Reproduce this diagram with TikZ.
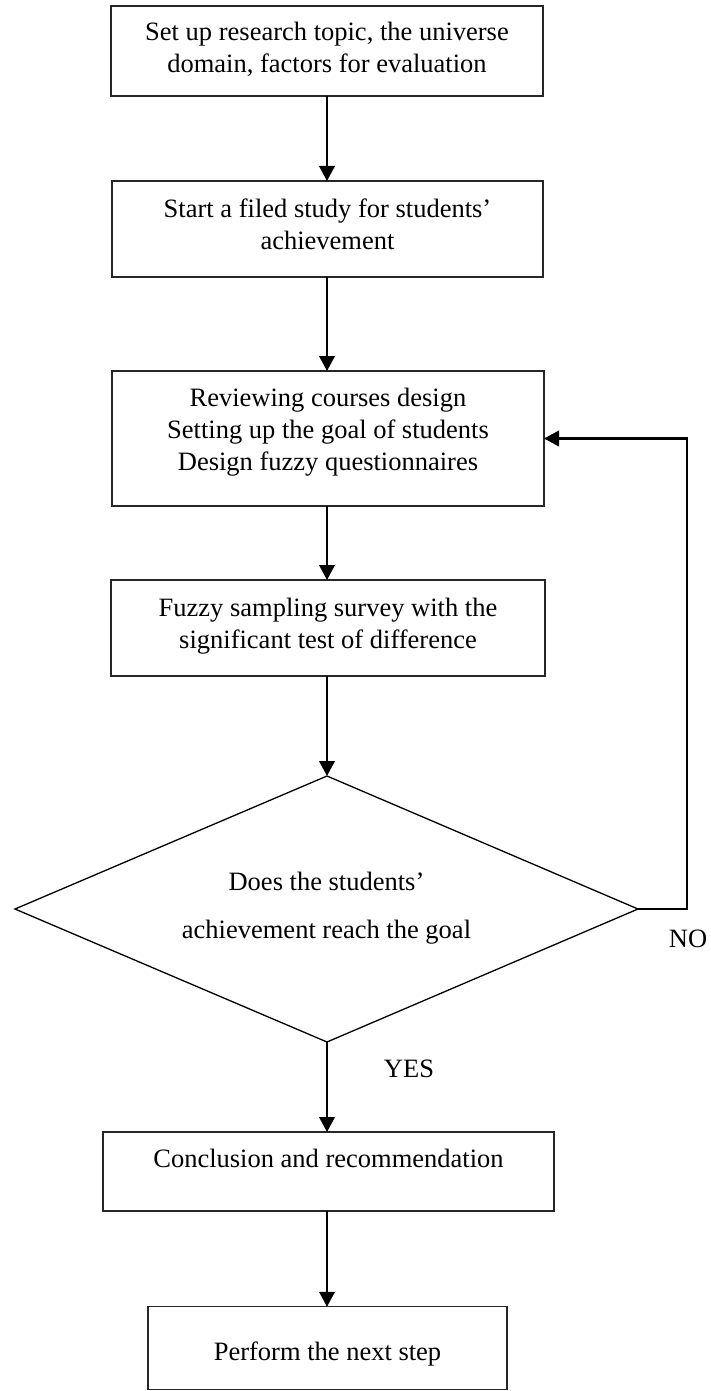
\documentclass[tikz,border=0pt]{standalone}
\usepackage{fontspec}
\setmainfont{Liberation Serif}
\usetikzlibrary{arrows.meta}
\newcommand\myTop[1]{\rule{0pt}{#1pt}}
\newcommand\myBot[1]{\rule[-#1pt]{0pt}{#1pt}}
\begin{document}
\begin{tikzpicture}[x=1pt,y=-1pt,
  box/.style={draw=black!85, line width=1.1pt, rectangle, align=center,
    inner sep=0pt, outer sep=0pt, font=\fontsize{26.5}{32}\selectfont},
  decline/.style={draw=black, line width=1.3pt, line join=miter},
  dectext/.style={align=center, inner sep=0pt, font=\fontsize{26.5}{48}\selectfont},
  lbl/.style={inner sep=0pt, font=\fontsize{26.5}{32}\selectfont},
  arr/.style={line width=2.2pt, -{Triangle[length=15pt,width=15.5pt]}},
  fbline/.style={line width=2.4pt, -{Triangle[length=15pt,width=15.5pt]}}]
\useasboundingbox (0,0) rectangle (710,1391);

\node[box, minimum width=432pt, minimum height=90pt] (b1) at (327,51)
  {\myTop{24}Set up research topic, the universe\\domain, factors for evaluation\myBot{12}};
\node[box, minimum width=431pt, minimum height=96pt] (b2) at (327.5,229)
  {\myTop{24}Start a filed study for students'\\achievement\myBot{16}};
\node[box, minimum width=432pt, minimum height=135pt] (b3) at (328,438.5)
  {\myTop{24}Reviewing courses design\\Setting up the goal of students\\Design fuzzy questionnaires\myBot{24}};
\node[box, minimum width=434pt, minimum height=96pt] (b4) at (328,628)
  {\myTop{24}Fuzzy sampling survey with the\\significant test of difference\myBot{16}};

\coordinate (dtop) at (327,776);
\coordinate (dright) at (638,909);
\coordinate (dbot) at (327,1042);
\coordinate (dleft) at (15,909);
\draw[decline] (dtop) -- (dright) -- (dbot) -- (dleft) -- cycle;
\node[dectext] (d) at (326.5,909)
  {\myTop{24}Does the students'\\achievement reach the goal\myBot{14}};

\node[box, minimum width=451pt, minimum height=79pt] (b5) at (328.5,1171.5)
  {\myTop{18}Conclusion and recommendation\myBot{27}};
\node[box, minimum width=359pt, minimum height=82.5pt] (b6) at (327.5,1348)
  {\myTop{30.5}Perform the next step\myBot{6.5}};

\node[lbl] (no) at (688,939) {NO};
\node[lbl] (yes) at (409,1069) {YES};

\coordinate (fb) at (687,909);

\draw[arr] (b1.south -| dtop) -- (dtop |- b2.north);
\draw[arr] (b2.south -| dtop) -- (dtop |- b3.north);
\draw[arr] (b3.south -| dtop) -- (dtop |- b4.north);
\draw[arr] (b4.south -| dtop) -- (dtop);
\draw[arr] (dbot) -- (dbot |- b5.north);
\draw[arr] (b5.south -| dtop) -- (dtop |- b6.north);
\draw[fbline] (dright) -- (fb) |- (b3.east);
\end{tikzpicture}
\end{document}
